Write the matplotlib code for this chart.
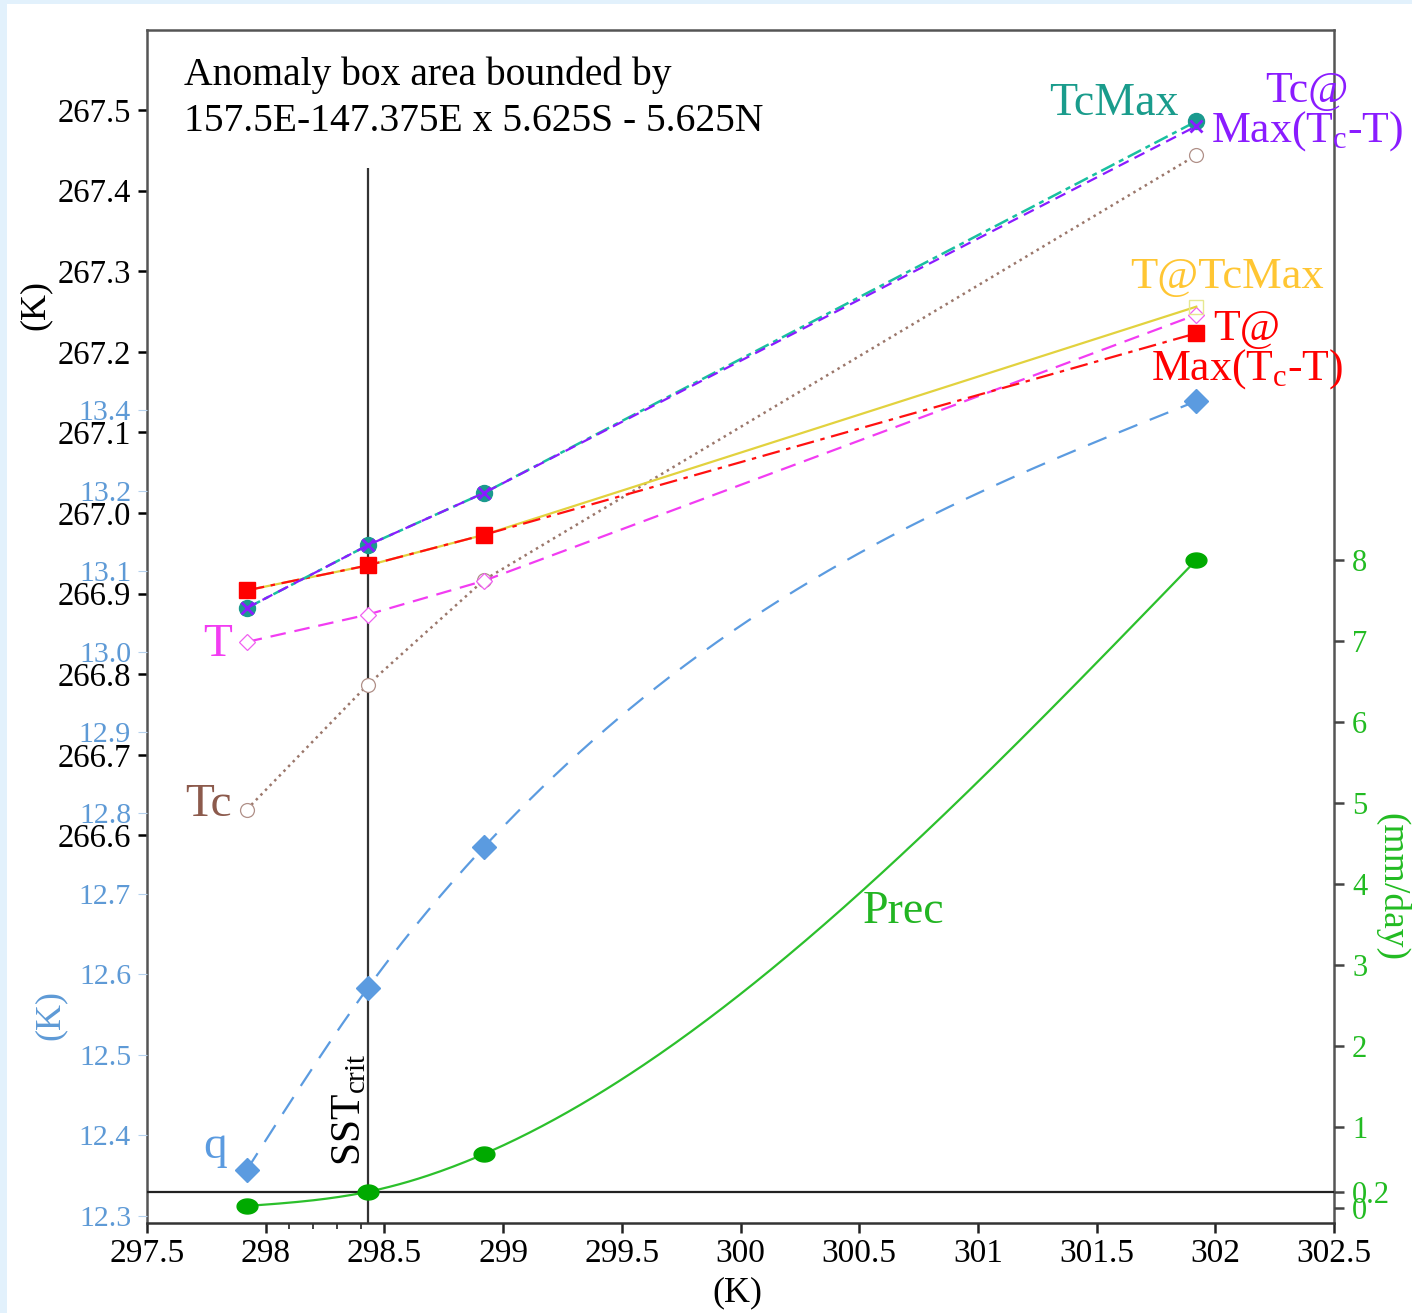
import numpy as np
import matplotlib
matplotlib.use("Agg")
from matplotlib import pyplot as plt
from matplotlib.patches import Rectangle
from matplotlib.path import Path
from matplotlib.ticker import FixedLocator, FixedFormatter

plt.rcParams['font.family'] = ['Liberation Serif', 'DejaVu Serif']
plt.rcParams['mathtext.fontset'] = 'custom'
plt.rcParams['mathtext.rm'] = 'Liberation Serif'
plt.rcParams['mathtext.it'] = 'Liberation Serif:italic'

# SST of the four composites (K)
sst = [297.92, 298.43, 298.92, 301.92]
sst_crit = 298.43

# temperatures on the left (black) axis, K
tc = [266.632, 266.787, 266.917, 267.444]
t = [266.840, 266.874, 266.916, 267.246]
tc_max = [266.882, 266.960, 267.025, 267.486]
tc_at_maxdiff = [266.882, 266.960, 267.025, 267.480]
t_at_tcmax = [266.904, 266.935, 266.973, 267.256]
t_at_maxdiff = [266.904, 266.935, 266.973, 267.223]
t_ticks = [266.6, 266.7, 266.8, 266.9, 267.0, 267.1, 267.2, 267.3, 267.4, 267.5]

# q on the light blue axis
q = [12.357, 12.583, 12.758, 13.311]
q_ticks = [12.3, 12.4, 12.5, 12.6, 12.7, 12.8, 12.9, 13.0, 13.1, 13.2, 13.3]
q_ticklabels = ['12.3', '12.4', '12.5', '12.6', '12.7', '12.8', '12.9', '13.0', '13.1', '13.2', '13.4']

# precipitation on the right (green) axis, mm/day
prec = [0.025, 0.2, 0.667, 8.0]
prec_thresh = 0.2
prec_ticks = [0, 0.2, 1, 2, 3, 4, 5, 6, 7, 8]

x_ticks = [297.5, 298, 298.5, 299, 299.5, 300, 300.5, 301, 301.5, 302, 302.5]
x_minor = [298.1, 298.2, 298.3, 298.4]


def natural_spline(x, y, n=300):
    # smooth curve through the points (natural cubic spline)
    x = np.asarray(x, float)
    y = np.asarray(y, float)
    k = len(x)
    h = np.diff(x)
    A = np.zeros((k, k))
    b = np.zeros(k)
    A[0, 0] = A[-1, -1] = 1
    for i in range(1, k - 1):
        A[i, i - 1] = h[i - 1]
        A[i, i] = 2 * (h[i - 1] + h[i])
        A[i, i + 1] = h[i]
        b[i] = 6 * ((y[i + 1] - y[i]) / h[i] - (y[i] - y[i - 1]) / h[i - 1])
    M = np.linalg.solve(A, b)
    xs = np.linspace(x[0], x[-1], n)
    idx = np.clip(np.searchsorted(x, xs) - 1, 0, k - 2)
    x0, x1 = x[idx], x[idx + 1]
    hh = x1 - x0
    a = (x1 - xs) / hh
    c = (xs - x0) / hh
    ys = (a * y[idx] + c * y[idx + 1]
          + ((a ** 3 - a) * M[idx] + (c ** 3 - c) * M[idx + 1]) * hh ** 2 / 6)
    return xs, ys


def px(xp, yp):
    # pixel position in the picture -> axes fraction
    return (xp - 147) / 1187, 1 - (yp - 30) / 1193


W, H = 1412, 1313
fig = plt.figure(figsize=(W / 100, H / 100), dpi=100, facecolor='#e2f1fc')
fig.add_artist(Rectangle((7 / W, 0), 1, 1 - 4 / H, transform=fig.transFigure,
                         facecolor='white', edgecolor='none', zorder=-10))

ax = fig.add_axes([147 / W, 1 - 1223 / H, (1334 - 147) / W, (1223 - 30) / H])
axq = ax.twinx()
axp = ax.twinx()

spine_col = '#555555'
for a in (axq, axp):
    for s in a.spines.values():
        s.set_visible(False)
for s in ax.spines.values():
    s.set_color(spine_col)
    s.set_linewidth(1.8)
ax.spines['bottom'].set_color('#333333')

# ---- main (black) temperature axis ----
ax.set_xlim(297.5, 302.5)
ax.set_ylim(266.1191, 267.5993)
ax.xaxis.set_major_locator(FixedLocator(x_ticks))
ax.xaxis.set_major_formatter(FixedFormatter([f'{v:g}' for v in x_ticks]))
ax.xaxis.set_minor_locator(FixedLocator(x_minor))
ax.yaxis.set_major_locator(FixedLocator(t_ticks))
ax.yaxis.set_major_formatter(FixedFormatter([f'{v:.1f}' for v in t_ticks]))
ax.tick_params(axis='x', which='major', direction='out', length=7, width=1.8,
               labelsize=24, pad=4, color='#222222')
ax.tick_params(axis='x', which='minor', direction='out', length=4, width=1.2, color='#222222')
ax.tick_params(axis='y', direction='out', length=6.5, width=1.8, labelsize=23.5,
               pad=5, color='black', right=False)

ax.plot(sst, tc, ':', color='#9b776b', lw=1.8, marker='o', ms=10, mfc='white',
        mec='#b09088', mew=0.9, zorder=3)
ax.plot(sst, t, color='#f23cf2', lw=1.6, dashes=(7, 4), marker='D', ms=8.5,
        mfc='white', mec='#f060f0', mew=0.9, zorder=3)
ax.plot(sst, t_at_tcmax, '-', color='#e2d23e', lw=1.6, marker='s', ms=10,
        mfc='none', mec='#e6e890', mew=1.0, zorder=4)
ax.plot(sst, t_at_maxdiff, color='#ff1010', lw=1.6, dashes=(8, 3, 2, 3), marker='s',
        ms=11, mfc='#ff0000', mec='#ff0000', zorder=5)
ax.plot(sst, tc_max, color='#19c0a0', lw=1.8, dashes=(6, 2, 2, 2), marker='o', ms=11.5,
        mfc='#1a9a8e', mec='#1a9a8e', zorder=5)
ax.plot(sst, tc_at_maxdiff, color='#8a1cff', lw=1.6, dashes=(5, 3), marker='x', ms=8,
        mew=2, mec='#8a1cff', zorder=6)

ax.vlines(sst_crit, ax.get_ylim()[0], 267.428, color='#333333', lw=1.6, zorder=2)

# ---- q (light blue) axis on the left ----
axq.yaxis.tick_left()
axq.set_ylim(12.2913, 13.7715)
axq.yaxis.set_major_locator(FixedLocator(q_ticks))
axq.yaxis.set_major_formatter(FixedFormatter(q_ticklabels))
axq.tick_params(axis='y', direction='out', length=6.5, width=0.8, labelsize=21.5,
                pad=5, color='#b6d2ee', labelcolor='#5e9ad6')
xs, ys = natural_spline(sst, q)
axq.plot(xs, ys, color='#5b9be0', lw=1.6, dashes=(9, 6), zorder=3)
axq.plot(sst, q, 'D', color='#5b9be0', ms=12, zorder=4)

# ---- precipitation (green) axis on the right ----
axp.set_ylim(-0.185, 14.543)
axp.yaxis.set_major_locator(FixedLocator(prec_ticks))
axp.yaxis.set_major_formatter(FixedFormatter([f'{v:g}' for v in prec_ticks]))
axp.tick_params(axis='y', direction='out', length=7, width=1.8, labelsize=22,
                pad=6, color='#444444', labelcolor='#22bb22')
ell = np.linspace(0, 2 * np.pi, 40)
ellipse = Path(np.c_[np.cos(ell), 0.72 * np.sin(ell)], closed=True)
xs, ys = natural_spline(sst, prec)
axp.plot(xs, ys, '-', color='#2cc02c', lw=1.6, zorder=3)
axp.plot(sst, prec, linestyle='none', marker=ellipse, ms=15, color='#00aa00', zorder=4)
axp.axhline(prec_thresh, color='#222222', lw=1.6, zorder=2)

# ---- text ----
ax.text(*px(184, 57), 'Anomaly box area bounded by\n157.5E-147.375E x 5.625S - 5.625N',
        transform=ax.transAxes, ha='left', va='top', fontsize=28.5, linespacing=1.3)

labels = [
    ('T', 218, 645, '#f23cf2', 34),
    ('Tc', 208, 805, '#8c5a4c', 34),
    ('q', 215, 1147, '#5b9be0', 34),
    ('TcMax', 1114, 104, '#1a9c8c', 33),
    ('Tc@\nMax(T$_{\\mathrm{c}}$-T)', 1307, 112, '#8a1cff', 31.5),
    ('T@TcMax', 1227, 277, '#ffc633', 32),
    ('T@\nMax(T$_{\\mathrm{c}}$-T)', 1247, 350, '#ff0000', 31.5),
    ('Prec', 903, 912, '#22b522', 33),
]
for s, xp, yp, col, fs in labels:
    ax.text(*px(xp, yp), s, transform=ax.transAxes, ha='center', va='center',
            color=col, fontsize=fs, linespacing=0.92, zorder=8)

ax.text(*px(350, 1110), 'SST$_{\\mathrm{crit}}$', transform=ax.transAxes, rotation=90,
        ha='center', va='center', fontsize=30, zorder=8)

ax.text(*px(35, 305), '(K)', transform=ax.transAxes, rotation=90, ha='center',
        va='center', fontsize=26)
ax.text(*px(50, 1015), '(K)', transform=ax.transAxes, rotation=90, ha='center',
        va='center', fontsize=26, color='#5e9ad6')
ax.text(*px(1392, 887), '(mm/day)', transform=ax.transAxes, rotation=-90, ha='center',
        va='center', fontsize=27, color='#22bb22')
ax.text(*px(737, 1293), '(K)', transform=ax.transAxes, ha='center', va='center',
        fontsize=26)

fig.savefig('out.png', dpi=100, facecolor=fig.get_facecolor())
